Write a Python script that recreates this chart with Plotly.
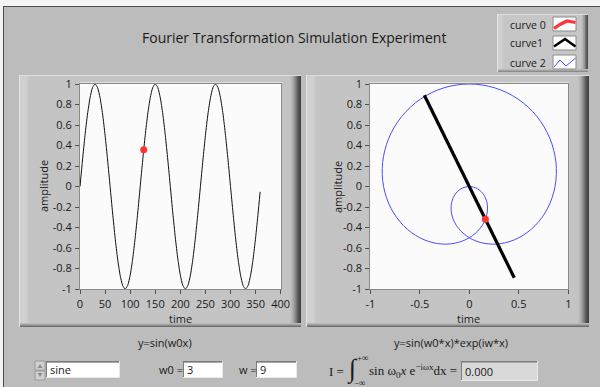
import plotly.graph_objects as go

W, H = 600, 387


def px(x):
    return x / W


def py(y):
    return 1 - y / H


# ---- data -----------------------------------------------------------------
# y = sin(w0 x), x in degrees, w0 = 3
time_deg = [0, 5, 10, 15, 20, 25, 30, 35, 40, 45, 50, 55, 60, 65, 70, 75, 80, 85,
            90, 95, 100, 105, 110, 115, 120, 125, 130, 135, 140, 145, 150, 155, 160,
            165, 170, 175, 180, 185, 190, 195, 200, 205, 210, 215, 220, 225, 230,
            235, 240, 245, 250, 255, 260, 265, 270, 275, 280, 285, 290, 295, 300,
            305, 310, 315, 320, 325, 330, 335, 340, 345, 350, 355, 359]
sine_amp = [0, 0.2588, 0.5, 0.7071, 0.866, 0.9659, 1, 0.9659, 0.866, 0.7071, 0.5, 0.2588,
            0, -0.2588, -0.5, -0.7071, -0.866, -0.9659, -1, -0.9659, -0.866, -0.7071, -0.5, -0.2588,
            0, 0.2588, 0.5, 0.7071, 0.866, 0.9659, 1, 0.9659, 0.866, 0.7071, 0.5, 0.2588,
            0, -0.2588, -0.5, -0.7071, -0.866, -0.9659, -1, -0.9659, -0.866, -0.7071, -0.5, -0.2588,
            0, 0.2588, 0.5, 0.7071, 0.866, 0.9659, 1, 0.9659, 0.866, 0.7071, 0.5, 0.2588,
            0, -0.2588, -0.5, -0.7071, -0.866, -0.9659, -1, -0.9659, -0.866, -0.7071, -0.5, -0.2588,
            -0.052]
cursor_time = [127]
cursor_amp = [0.358]

# y = sin(w0 x) * exp(i w x), traced in the complex plane (w0 = 3, w = 9)
trace_re = [0, 0.0842, 0.1504, 0.183, 0.171, 0.1094, 0, -0.1484, -0.3214, -0.5, -0.6634,
            -0.7913, -0.866, -0.8754, -0.8138, -0.683, -0.4924, -0.2578, 0, 0.2578, 0.4924,
            0.683, 0.8138, 0.8754, 0.866, 0.7913, 0.6634, 0.5, 0.3214, 0.1484, 0, -0.1094,
            -0.171, -0.183, -0.1504, -0.0842, 0]
trace_im = [0, -0.0226, -0.0868, -0.183, -0.2962, -0.4082, -0.5, -0.554, -0.5567, -0.5,
            -0.383, -0.212, 0, 0.2346, 0.4698, 0.683, 0.8529, 0.9622, 1, 0.9622, 0.8529,
            0.683, 0.4698, 0.2346, 0, -0.212, -0.383, -0.5, -0.5567, -0.554, -0.5, -0.4082,
            -0.2962, -0.183, -0.0868, -0.0226, 0]
phasor_re = [-0.454, 0.454]
phasor_im = [0.891, -0.891]
cursor_re = [0.163]
cursor_im = [-0.319]

time_ticks = [0, 50, 100, 150, 200, 250, 300, 350, 400]
time_ticktext = ["0", "50", "100", "150", "200", "250", "300", "350", "400"]
amp_ticks = [-1, -0.8, -0.6, -0.4, -0.2, 0, 0.2, 0.4, 0.6, 0.8, 1]
amp_ticktext = ["-1", "-0.8", "-0.6", "-0.4", "-0.2", "0", "0.2", "0.4", "0.6", "0.8", "1"]
re_ticks = [-1, -0.5, 0, 0.5, 1]
re_ticktext = ["-1", "-0.5", "0", "0.5", "1"]

legend_names = ["curve 0", "curve1", "curve 2"]
w0_value = "3"
w_value = "9"
signal_type = "sine"
integral_value = "0.000"

UI_FONT = "Open Sans"
PANEL = "#bcbcbc"
FRAME = "#c4c4c4"
PLOT_BG = "#fbfbfb"
BLUE = "#4b4bff"
RED = "#ff3434"

fig = go.Figure()

fig.add_trace(go.Scatter(x=time_deg, y=sine_amp, mode="lines", name=legend_names[1],
                         line=dict(color="#101010", width=1, shape="spline", smoothing=0.6),
                         xaxis="x", yaxis="y", hoverinfo="skip"))
fig.add_trace(go.Scatter(x=cursor_time, y=cursor_amp, mode="markers", name=legend_names[0],
                         marker=dict(color=RED, size=7), xaxis="x", yaxis="y"))

fig.add_trace(go.Scatter(x=trace_re, y=trace_im, mode="lines", name=legend_names[2],
                         line=dict(color=BLUE, width=1, shape="spline", smoothing=1.0),
                         xaxis="x2", yaxis="y2", hoverinfo="skip"))
fig.add_trace(go.Scatter(x=phasor_re, y=phasor_im, mode="lines", name=legend_names[1],
                         line=dict(color="black", width=3.2), xaxis="x2", yaxis="y2"))
fig.add_trace(go.Scatter(x=cursor_re, y=cursor_im, mode="markers", name=legend_names[0],
                         marker=dict(color=RED, size=7), xaxis="x2", yaxis="y2"))

tickfont = dict(family=UI_FONT, size=11, color="#1a1a1a")
common = dict(ticks="outside", ticklen=4, tickwidth=1, tickcolor="#505050",
              showgrid=False, zeroline=False, showline=True, linecolor="#8a8a8a",
              linewidth=1, mirror=True, tickfont=tickfont, fixedrange=True,
              ticklabelstandoff=1, automargin=False)

fig.update_layout(
    template="none",
    width=W, height=H, margin=dict(l=0, r=0, t=0, b=0, pad=0, autoexpand=False),
    paper_bgcolor=PANEL, plot_bgcolor=PLOT_BG, showlegend=False,
    xaxis=dict(domain=[px(80), px(280.7)], range=[0, 400], tickvals=time_ticks,
               ticktext=time_ticktext, anchor="y", **common),
    yaxis=dict(domain=[py(289), py(84)], range=[-1, 1], tickvals=amp_ticks,
               ticktext=amp_ticktext, anchor="x", **common),
    xaxis2=dict(domain=[px(370.3), px(568.3)], range=[-1, 1], tickvals=re_ticks,
                ticktext=re_ticktext, anchor="y2", **common),
    yaxis2=dict(domain=[py(289), py(84)], range=[-1, 1], tickvals=amp_ticks,
                ticktext=amp_ticktext, anchor="x2", **common),
)

shapes = []


def rect(x0, y0, x1, y1, fill, line=None, lw=1, layer="below"):
    shapes.append(dict(type="rect", xref="paper", yref="paper",
                       x0=px(x0), x1=px(x1), y0=py(y1), y1=py(y0),
                       fillcolor=fill, layer=layer,
                       line=dict(width=lw if line else 0, color=line or "rgba(0,0,0,0)")))


def seg(xs, ys, color, width, layer="above"):
    path = "M " + " L ".join(f"{px(a)},{py(b)}" for a, b in zip(xs, ys))
    shapes.append(dict(type="path", xref="paper", yref="paper", path=path,
                       line=dict(color=color, width=width), layer=layer))


# window edges
rect(0, 0, 600, 6, "#f4f4f4")
rect(0, 0, 3, 387, "#f4f4f4")
rect(3, 6, 600, 7, "#4a4a4a")
rect(3, 6, 4, 387, "#4a4a4a")


def raised(x0, y0, x1, y1, face, right_w=11, bottom_w=4, left_w=8):
    rect(x0, y0, x1, y1, face)
    rect(x0, y0, x0 + left_w, y1, "#d0d0d0")
    rect(x0 + left_w, y0, x0 + left_w + 2, y1, "#c9c9c9")
    rect(x0, y0, x1, y0 + 1, "#dcdcdc")
    rect(x0, y0, x0 + 1, y1, "#e4e4e4")
    shades = ["#bfbfbf", "#b8b8b8", "#afafaf", "#a3a3a3", "#959595", "#868686",
              "#747474", "#626262", "#545454", "#4a4a4a", "#444444"]
    n = right_w
    for i in range(n):
        c = shades[int(i * len(shades) / n)]
        rect(x1 - n + i, y0 + 1, x1 - n + i + 1, y1, c)
    bshades = ["#b8b8b8", "#a4a4a4", "#8c8c8c", "#6c6c6c"]
    for i in range(bottom_w):
        c = bshades[int(i * len(bshades) / bottom_w)]
        rect(x0 + 1, y1 - bottom_w + i, x1, y1 - bottom_w + i + 1, c)


# graph frames
raised(19, 75, 301, 327, FRAME)
raised(306, 75, 589, 327, FRAME)
rect(80, 82.5, 282, 289, PLOT_BG)
rect(370, 82.5, 569, 289, PLOT_BG)

# legend box
raised(497, 14, 588, 72, "#c6c6c6", right_w=7, bottom_w=3, left_w=5)
for top in (17, 36, 55):
    rect(553, top, 576, top + 14, "#fcfcfc", line="#8c8c8c")
seg([554, 560, 567, 575.5], [28.5, 24.5, 21, 22.5], RED, 3.2)
seg([554, 565, 575.5], [46.5, 39, 46.5], "black", 2.6)
seg([554, 560, 566, 575.5], [67, 60, 66, 58], BLUE, 1)


def sunken(x0, y0, x1, y1, fill):
    rect(x0, y0, x1, y1, fill)
    rect(x0, y0, x1, y0 + 1, "#7c7c7c")
    rect(x0, y0, x0 + 1, y1, "#7c7c7c")
    rect(x0 + 1, y0 + 1, x1 - 1, y0 + 2, "#a8a8a8")
    rect(x0, y1 - 1, x1, y1, "#e8e8e8")
    rect(x1 - 1, y0, x1, y1, "#e8e8e8")


# controls
sunken(46, 361, 120, 378, "#ffffff")
sunken(183, 361, 223, 378, "#ffffff")
sunken(256, 361, 297, 378, "#ffffff")
sunken(461, 361, 538, 381, "#d9d9d9")
# ring up/down buttons
rect(35, 361, 45, 370, "#d0d0d0", line="#9a9a9a")
rect(35, 371, 45, 380, "#d0d0d0", line="#9a9a9a")
shapes.append(dict(type="path", xref="paper", yref="paper",
                   path=f"M {px(37.5)},{py(368)} L {px(40)},{py(364)} L {px(42.5)},{py(368)} Z",
                   fillcolor="#8e8e8e", line=dict(width=0), layer="above"))
shapes.append(dict(type="path", xref="paper", yref="paper",
                   path=f"M {px(37.5)},{py(373)} L {px(40)},{py(377)} L {px(42.5)},{py(373)} Z",
                   fillcolor="#8e8e8e", line=dict(width=0), layer="above"))

fig.update_layout(shapes=shapes)

annotations = []


def text(s, x, y, size=11, anchor="left", family=UI_FONT, color="#1a1a1a", angle=0):
    annotations.append(dict(text=s, x=px(x), y=py(y), xref="paper", yref="paper",
                            xanchor=anchor, yanchor="middle", showarrow=False,
                            textangle=angle, font=dict(family=family, size=size, color=color)))


text("Fourier Transformation Simulation Experiment", 294, 38, size=14, anchor="center")
for name, y in zip(legend_names, (24.5, 43.5, 62.5)):
    text(name, 508, y, size=10.5)

text("time", 180, 318, anchor="center")
text("time", 468, 318, anchor="center")
text("amplitude", 43, 186, anchor="center", angle=-90)
text("amplitude", 337, 187, anchor="center", angle=-90)
text("y=sin(w0x)", 165, 342, anchor="center")
text("y=sin(w0*x)*exp(iw*x)", 451, 342, anchor="center")

text(signal_type, 48, 369.5)
text("w0 =", 157, 369.5)
text(w0_value, 185, 369.5)
text("w =", 237, 369.5)
text(w_value, 258, 369.5)
text(integral_value, 463, 371)

SERIF = "Liberation Serif"
text("I =", 327, 371, size=13, family=SERIF)
text("\u222b", 345, 369, size=26, family=SERIF)
text("+\u221e", 355, 358, size=9, family=SERIF)
text("\u2212\u221e", 352, 383, size=9, family=SERIF)
text("sin \u03c9<sub>0</sub><i>x</i> e<sup>\u2212i\u03c9x</sup>dx =", 367, 371, size=13, family=SERIF)

fig.update_layout(annotations=annotations)

fig.write_html("out.html", include_plotlyjs=True, config={"displayModeBar": False})
